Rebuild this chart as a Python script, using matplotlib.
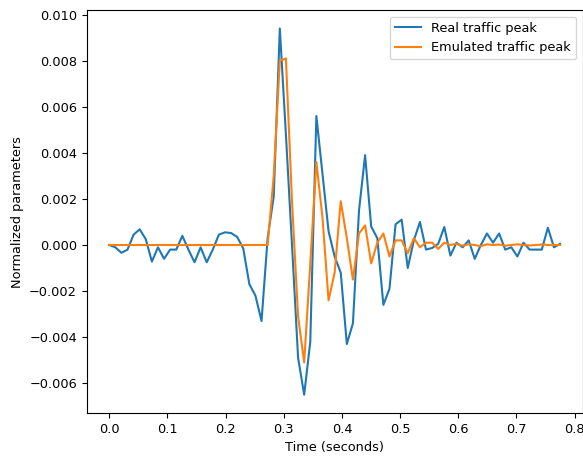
import numpy as np
import matplotlib
matplotlib.use("Agg")
import matplotlib.pyplot as plt

plt.rcParams["font.size"] = 9.3

# sample times (s), 75 samples over the peak window
time_s = np.linspace(0.0, 0.775, 75)

# measured peak, normalized
real_peak = [
    0.0, -0.0001, -0.00034, -0.0002, 0.00045, 0.00068, 0.00025, -0.00072,
    -0.0001, -0.0006, -0.0002, -0.0002, 0.0004, -0.0002, -0.00075, -0.0001,
    -0.00075, -0.0002, 0.00045, 0.00055, 0.00052, 0.00035, -0.00015, -0.0017,
    -0.0022, -0.0033, 0.0003, 0.0021, 0.0094, 0.0048, 0.0, -0.0049,
    -0.0065, -0.0042, 0.0056, 0.0031, 0.0006, -0.0005, -0.0012, -0.0043,
    -0.0034, 0.0015, 0.0039, 0.0008, 0.0003, -0.0026, -0.0019, 0.0009,
    0.0011, -0.0010, 0.0002, 0.0010, -0.0002, -0.00013, 0.00005, 0.00078,
    -0.00046, 0.0001, -0.0001, 0.0002, -0.0006, 0.0, 0.0005, 0.0001,
    0.0005, -0.0002, -0.0001, -0.0005, 0.0001, -0.0002, -0.0002, -0.0002,
    0.00075, -0.0001, 0.00005,
]

# emulated peak, normalized
emulated_peak = [0.0] * 27 + [
    0.0030, 0.0080, 0.0081, 0.0019, -0.0031, -0.0051, -0.0008, 0.0036,
    0.0012, -0.0024, -0.0012, 0.0019, 0.0003, -0.0015, 0.0005, 0.00085,
    -0.0008, 0.0001, 0.0005, -0.0005, 0.0002, 0.0002, -0.00036, 0.0003,
    -0.0001, 0.0001, 0.0001, -0.00017, 0.0001, 0.0, 0.00005, -0.00003,
    0.00003, 0.0, -0.00005, 0.00003, 0.0, 0.00002, -0.00003, 0.0,
    0.00003, 0.0, -0.00002, 0.0, 0.00002, 0.0, 0.0, 0.0,
]

fig = plt.figure(figsize=(5.83, 4.62), dpi=100)
ax = fig.add_axes([0.1487, 0.106, 0.8506, 0.872])

ax.plot(time_s, real_peak, color="tab:blue", label="Real traffic peak")
ax.plot(time_s, emulated_peak, color="tab:orange", label="Emulated traffic peak")

ax.set_xlabel("Time (seconds)")
ax.set_ylabel("Normalized parameters")
ax.set_xticks(np.arange(0.0, 0.81, 0.1))
ax.set_yticks(np.arange(-0.006, 0.0101, 0.002))
ax.legend(loc="upper right")

fig.savefig("out.png", dpi=100)
